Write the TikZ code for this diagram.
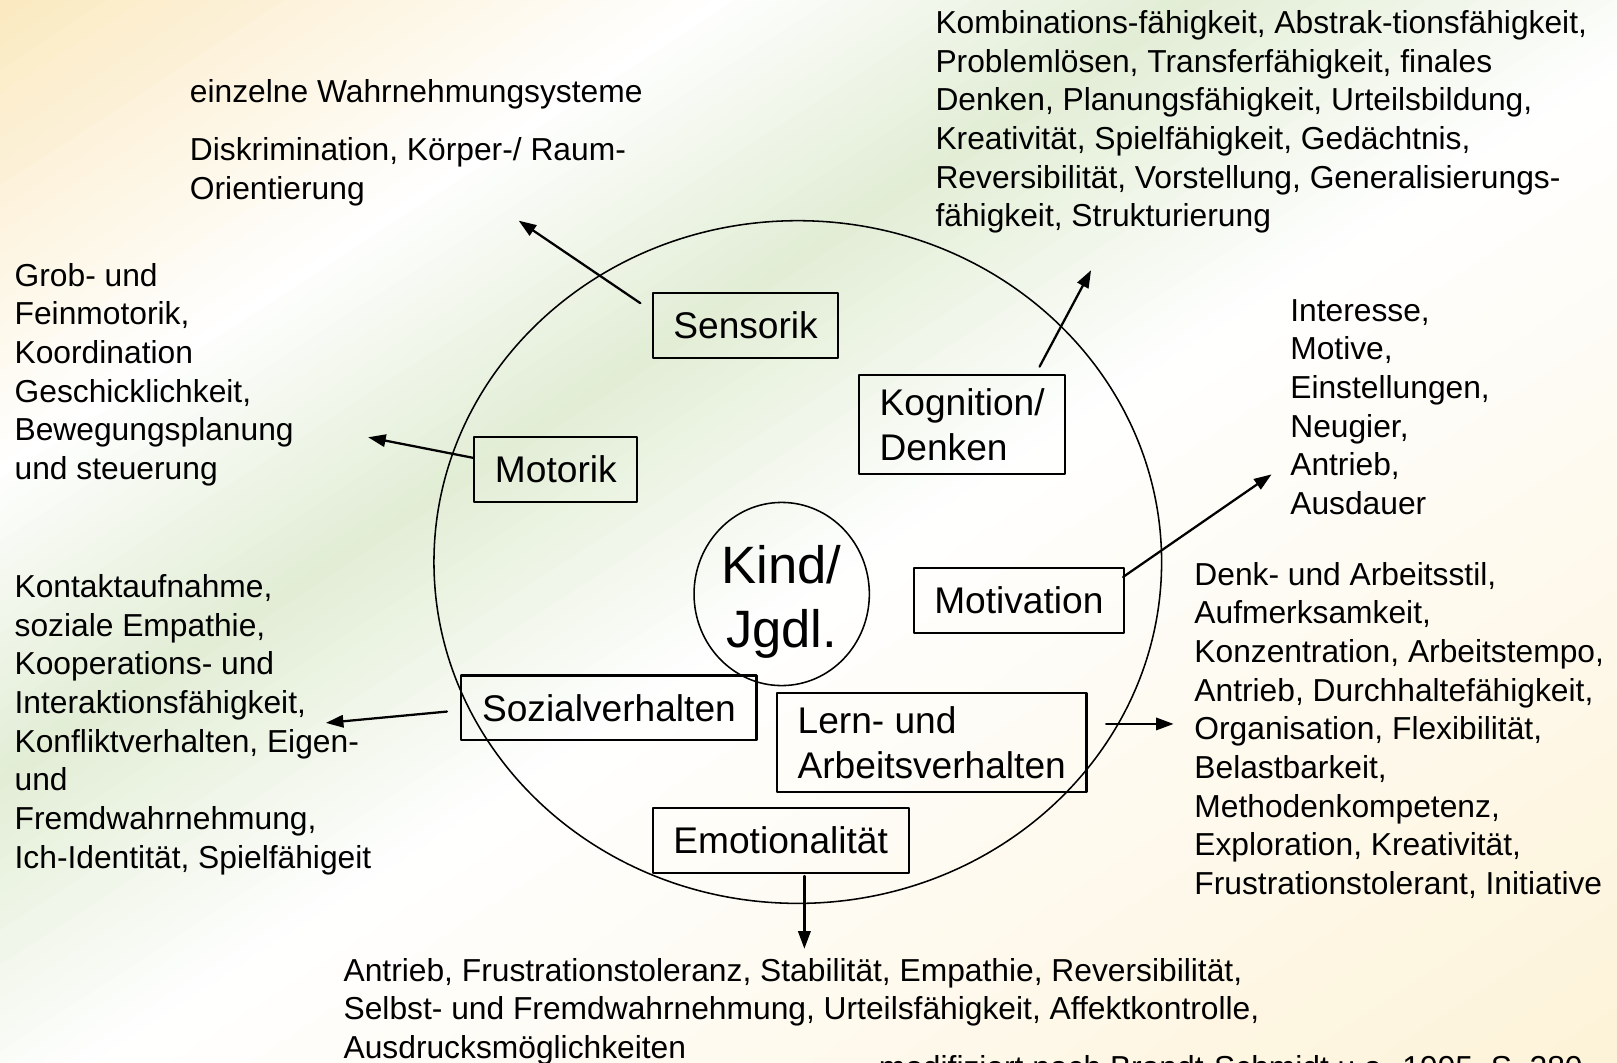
\documentclass[tikz,border=0pt]{standalone}
\usepackage{fontspec}
\setmainfont{Liberation Sans}
\usetikzlibrary{arrows.meta,shapes.geometric}
\definecolor{bgA}{RGB}{251,233,192}
\definecolor{bgG}{RGB}{226,237,213}
\definecolor{bgB}{RGB}{253,242,214}
\tikzset{
  box/.style={draw, line width=2pt, inner xsep=20pt, inner ysep=13pt, minimum height=63pt, align=left, font=\fontsize{36}{43.5}\selectfont},
  txt/.style={anchor=north west, inner sep=0pt, align=left, font=\fontsize{30.8}{37.5}\selectfont},
  pfeil/.style={->, line width=2.2pt}
}
\begin{document}
\begin{tikzpicture}[x=1pt, y=-1pt, line join=round, line cap=round, >={Triangle[length=17pt,width=12pt]}]
	\def\W{1568} \def\H{1030}
	\useasboundingbox (0,0) rectangle (\W,\H);
	\begin{scope}
	\clip (0,0) rectangle (\W,\H);
	\foreach \a/\b/\ca/\cb in {0/0.6/bgA/white, 0.6/1/white/bgG, 1/1.45/bgG/white, 1.45/2.8/white/bgB}
	\foreach \k in {0,...,19}{
		\pgfmathsetmacro\fa{\a+(\b-\a)*\k/20}
		\pgfmathsetmacro\fb{\a+(\b-\a)*(\k+1.2)/20}
		\pgfmathtruncatemacro\p{5*\k+2}
		\fill[\cb!\p!\ca] ({1150*\fa+2300},-1500) -- ({1150*\fa-3450},2250) -- ({1150*\fb-3450},2250) -- ({1150*\fb+2300},-1500) -- cycle;
	}
	\end{scope}
	\draw[line width=1.5pt] (773.6,545) ellipse [x radius=352.8, y radius=331];
	\node[draw, ellipse, line width=1.5pt, minimum width=170pt, minimum height=148pt, inner sep=0pt, align=center, font=\fontsize{51}{62}\selectfont] (kind) at (758,576) {\rule{0pt}{53pt}Kind/\\Jgdl.};
	\node[box] (sens) at (723,315.5) {Sensorik};
	\node[box] (kog) at (933,411.5) {Kognition/\\Denken};
	\node[box] (mot) at (539,455) {Motorik};
	\node[box] (motiv) at (988,582) {Motivation};
	\node[box] (soz) at (590.5,686.5) {Sozialverhalten};
	\node[box] (lern) at (903.5,720) {Lern- und\\Arbeitsverhalten};
	\node[box] (emo) at (757,815) {Emotionalität};
	\node[txt] (sensT) at (184,77) {einzelne Wahrnehmungsysteme\\[18.5pt]Diskrimination, Körper-/ Raum-\\Orientierung};
	\node[txt] (kogT) at (907,10) {Kombinations-fähigkeit, Abstrak-tionsfähigkeit,\\Problemlösen, Transferfähigkeit, finales\\Denken, Planungsfähigkeit, Urteilsbildung,\\Kreativität, Spielfähigkeit, Gedächtnis,\\Reversibilität, Vorstellung, Generalisierungs-\\fähigkeit, Strukturierung};
	\node[txt] (motT) at (14,255) {Grob- und\\Feinmotorik,\\Koordination\\Geschicklichkeit,\\Bewegungsplanung\\und steuerung};
	\node[txt] (motivT) at (1251,290) {Interesse,\\Motive,\\Einstellungen,\\Neugier,\\Antrieb,\\Ausdauer};
	\node[txt] (sozT) at (14,557) {Kontaktaufnahme,\\soziale Empathie,\\Kooperations- und\\Interaktionsfähigkeit,\\Konfliktverhalten, Eigen-\\und\\Fremdwahrnehmung,\\Ich-Identität, Spielfähigeit};
	\node[txt] (lernT) at (1158,545) {Denk- und Arbeitsstil,\\Aufmerksamkeit,\\Konzentration, Arbeitstempo,\\Antrieb, Durchhaltefähigkeit,\\Organisation, Flexibilität,\\Belastbarkeit,\\Methodenkompetenz,\\Exploration, Kreativität,\\Frustrationstolerant, Initiative};
	\node[txt] (emoT) at (333,929) {Antrieb, Frustrationstoleranz, Stabilität, Empathie, Reversibilität,\\Selbst- und Fremdwahrnehmung, Urteilsfähigkeit, Affektkontrolle,\\Ausdrucksmöglichkeiten};
	\node[txt] (quelle) at (852,1023) {modifiziert nach Brandt-Schmidt u.a. 1995, S. 280};
	\coordinate (sensE) at (503,214);
	\coordinate (kogE) at (1058,262);
	\coordinate (motE) at (357,424);
	\coordinate (motivE) at (1233,460);
	\coordinate (sozE) at (316,701);
	\coordinate (lernE) at (1138,702);
	\coordinate (emoE) at (780,920);
	\draw[pfeil] ([xshift=-11pt,yshift=-11pt]sens.north west) -- (sensE);
	\draw[pfeil] ([xshift=-26pt,yshift=7pt]kog.north east) -- (kogE);
	\draw[pfeil] ([yshift=11pt]mot.west) -- (motE);
	\draw[pfeil] ([xshift=-2pt,yshift=-10pt]motiv.north east) -- (motivE);
	\draw[pfeil] ([xshift=-13pt,yshift=-3.5pt]soz.west) -- (sozE);
	\draw[pfeil] ([xshift=18pt,yshift=18pt]lern.east) -- (lernE);
	\draw[pfeil] ([xshift=23pt,yshift=-2pt]emo.south) -- (emoE);
\end{tikzpicture}
\end{document}
